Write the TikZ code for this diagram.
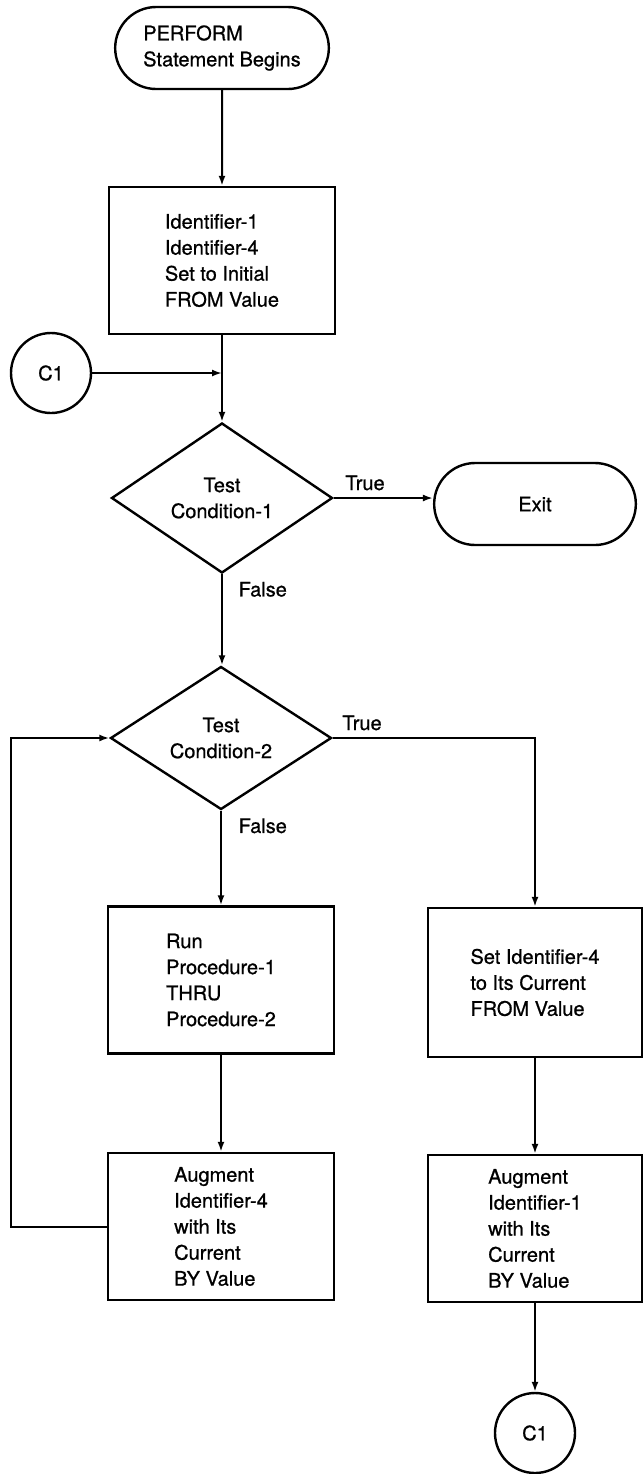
\documentclass[tikz,border=0pt]{standalone}
\usepackage{fontspec}
\setmainfont{TeX Gyre Heros}[FakeBold=0.8]
\usetikzlibrary{arrows.meta,shapes.geometric,shapes.misc}

\begin{document}
\begin{tikzpicture}[x=0.5pt, y=-0.5pt,
  every node/.style={font=\fontsize{10}{13}\selectfont},
  term/.style={draw, line width=1.2pt, rounded rectangle, align=left, minimum height=41pt},
  proc/.style={draw, line width=1.2pt, align=left, minimum width=113pt, minimum height=73.5pt},
  test/.style={draw, line width=1.2pt, diamond, aspect=1.47, inner sep=0pt, align=center, minimum width=110.5pt, minimum height=73pt},
  conn/.style={draw, line width=1.2pt, circle, inner sep=0pt, minimum size=40pt},
  flow/.style={line width=1pt, -{Latex[length=5pt,width=3.5pt]}}]
  \useasboundingbox (0,0) rectangle (643,1474);
  % left column
  \node[term, minimum width=113.5pt] (start) at (222,48) {PERFORM\\Statement Begins};
  \node[proc] (init) at (222,260.5) {Identifier-1\\Identifier-4\\Set to Initial\\FROM Value};
  \node[conn] (c1in) at (51,373) {C1};
  \node[test, minimum height=75pt] (test1) at (222,498) {Test\\Condition-1};
  \node[term, minimum width=107.5pt, align=center] (exit) at (535,504) {Exit};
  \node[test, minimum height=71.5pt] (test2) at (221,738) {Test\\Condition-2};
  \node[proc] (run) at (221,980) {Run\\Procedure-1\\THRU\\Procedure-2};
  \node[proc] (aug4) at (221,1226.5) {Augment\\Identifier-4\\with Its\\Current\\BY Value};
  % right column
  \node[proc, minimum width=107pt, minimum height=74.5pt] (setid) at (535,982.5) {Set Identifier-4\\to Its Current\\FROM Value};
  \node[proc, minimum width=107pt] (aug1) at (535,1228.5) {Augment\\Identifier-1\\with Its\\Current\\BY Value};
  \node[conn] (c1out) at (535,1433) {C1};
  % connectors
  \draw[flow] (start) -- (init);
  \draw[flow] (init) -- (test1);
  \draw[flow] (c1in.east) -- (c1in.east -| init.south);
  \draw[flow] (test1.east) -- (test1.east -| exit.west) node[pos=0, above right, xshift=2pt] {True};
  \draw[flow] (test1.south) -- (test1.south |- test2.north) node[pos=0, below right, xshift=4.5pt] {False};
  \draw[flow] (test2.east) -| (setid.north) node[pos=0, above right, xshift=1pt] {True};
  \draw[flow] (test2) -- (run) node[pos=0, below right, xshift=5pt] {False};
  \draw[flow] (run) -- (aug4);
  \draw[flow] (aug4.west) -- ++(-96,0) |- (test2.west);
  \draw[flow] (setid) -- (aug1);
  \draw[flow] (aug1) -- (c1out);
\end{tikzpicture}
\end{document}
